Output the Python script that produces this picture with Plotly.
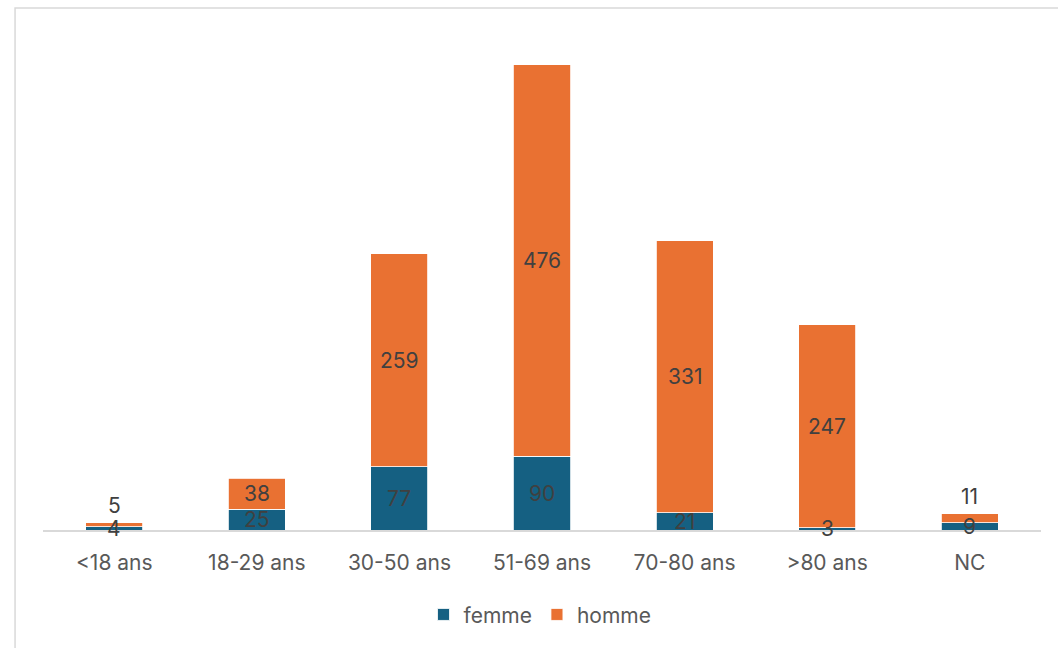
import plotly.graph_objects as go

# Age groups and counts by sex
categories = ["<18 ans", "18-29 ans", "30-50 ans", "51-69 ans", "70-80 ans", ">80 ans", "NC"]
femme = [4, 25, 77, 90, 21, 3, 9]
homme = [5, 38, 259, 476, 331, 247, 11]

FEMME_COLOR = "#156082"
HOMME_COLOR = "#E97132"
FONT = "Inter, Liberation Sans, Arial, sans-serif"
LABEL_COLOR = "#404040"
TEXT_COLOR = "#595959"
SIZE = 21

fig = go.Figure()
fig.add_trace(go.Bar(
    name="femme", x=categories, y=femme,
    marker=dict(color=FEMME_COLOR, line=dict(color="white", width=0.8)),
))
fig.add_trace(go.Bar(
    name="homme", x=categories, y=homme,
    marker=dict(color=HOMME_COLOR, line=dict(color="white", width=0.8)),
))

# Value labels: centred on each segment; small orange segments labelled above the bar
annotations = []
for cat, f, h in zip(categories, femme, homme):
    annotations.append(dict(
        x=cat, y=f / 2, xref="x", yref="y", text=str(f), showarrow=False,
        yanchor="middle", font=dict(size=SIZE, color=LABEL_COLOR, family=FONT),
    ))
    if h < 20:
        annotations.append(dict(
            x=cat, y=f + h, xref="x", yref="y", text=str(h), showarrow=False,
            yanchor="bottom", yshift=3, font=dict(size=SIZE, color=LABEL_COLOR, family=FONT),
        ))
    else:
        annotations.append(dict(
            x=cat, y=f + h / 2, xref="x", yref="y", text=str(h), showarrow=False,
            yanchor="middle", font=dict(size=SIZE, color=LABEL_COLOR, family=FONT),
        ))

fig.update_layout(
    barmode="stack",
    bargap=0.6,
    width=1058, height=648,
    margin=dict(l=43, r=17, t=37, b=118),
    paper_bgcolor="white", plot_bgcolor="white",
    font=dict(family=FONT, color=TEXT_COLOR, size=SIZE),
    showlegend=True,
    legend=dict(
        orientation="h", x=0.498, xanchor="center", y=-0.172, yanchor="middle",
        font=dict(size=SIZE, color=TEXT_COLOR, family=FONT),
        itemwidth=30, traceorder="normal",
    ),
    xaxis=dict(
        showline=True, linecolor="#D9D9D9", linewidth=1.5,
        ticks="", showgrid=False, ticklabelstandoff=13,
        tickfont=dict(size=SIZE, color=TEXT_COLOR, family=FONT),
    ),
    yaxis=dict(range=[0, 600], visible=False, showgrid=False),
    annotations=annotations,
    shapes=[dict(
        type="rect", xref="paper", yref="paper",
        x0=-0.028, x1=1.05, y0=-0.3, y1=1.0588,
        line=dict(color="#D9D9D9", width=1.5), layer="below",
    )],
)

fig.write_html("out.html")
